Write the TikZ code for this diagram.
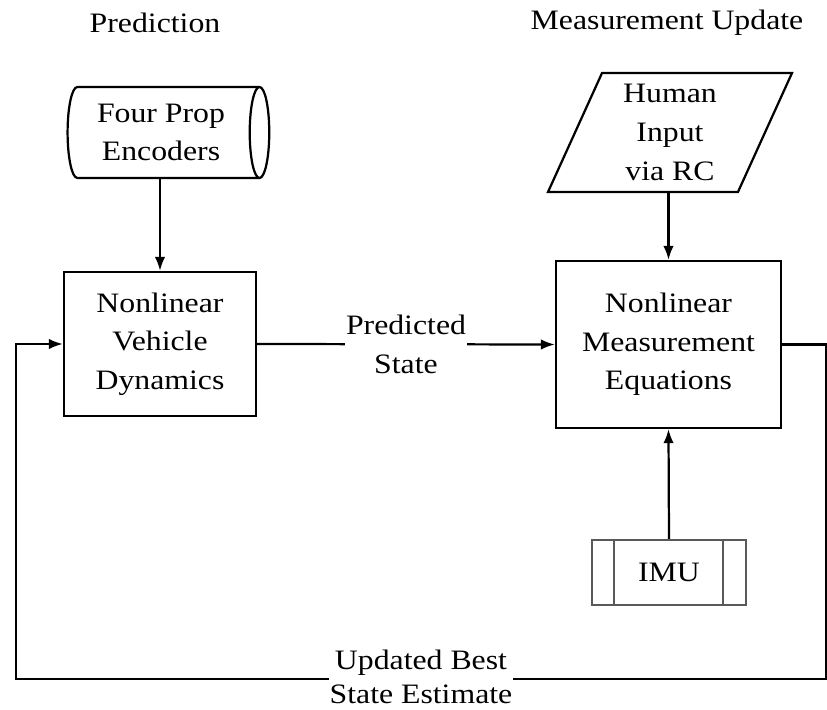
\documentclass[tikz,border=0pt]{standalone}
\usepackage{fontspec}
\setmainfont{Liberation Serif}[FakeStretch=1.13]
\usetikzlibrary{shapes.geometric,arrows.meta}

\begin{document}
\begin{tikzpicture}[x=0.03cm, y=-0.03cm, line width=1.9pt,
        font=\fontsize{24pt}{33pt}\selectfont,
        block/.style = {draw, rectangle, align=center},
        drum/.style = {draw, cylinder, aspect=0.3, align=center, minimum width=2.73cm, minimum height=6.05cm},
        slant/.style = {draw, trapezium, trapezium left angle=62.5, trapezium right angle=117.5,
            trapezium stretches body, align=center, minimum width=7.32cm, minimum height=3.57cm},
        lbl/.style = {fill=white, inner sep=1pt, align=center},
        arr/.style = {-{Latex[length=12pt,width=9pt]}}]
        \useasboundingbox (0,0) rectangle (827,710);
        % headings
        \node (pred) at (155,23) {Prediction};
        \node (upd)  at (667,23) {Measurement Update};
        % prediction side
        \node[drum] (enc) at (161,132.5) {Four Prop\\Encoders};
        \node[block, minimum width=5.76cm, minimum height=4.32cm] (veh) at (160,344) {Nonlinear\\Vehicle\\Dynamics};
        % measurement side
        \node[slant] (hum) at (670,132.5) {Human\\Input\\via RC};
        \node[block, minimum width=6.75cm, minimum height=5.01cm] (meas) at (668.5,344.5) {Nonlinear\\Measurement\\Equations};
        \node[block, draw=black!65, minimum width=4.62cm, minimum height=1.95cm] (imu) at (669,572.5) {IMU};
        \draw[black!65] ([xshift=0.69cm]imu.north west) -- ([xshift=0.69cm]imu.south west);
        \draw[black!65] ([xshift=-0.72cm]imu.north east) -- ([xshift=-0.72cm]imu.south east);
        % loop corners
        \coordinate (br) at (826,679);
        \coordinate (bl) at (16,679);
        \draw[arr] (enc.south -| veh.north) -- (veh.north);
        \draw[arr] (hum.south -| meas.north) -- (meas.north);
        \draw[arr] (imu.north) -- (meas.south);
        \draw[arr] (veh.east) -- node[lbl] {Predicted\\State} (meas.west);
        \draw[arr] (meas.east) -| (br) -- node[lbl, font=\fontsize{24pt}{29pt}\selectfont, yshift=2pt] {Updated Best\\State Estimate} (bl) |- (veh.west);
    \end{tikzpicture}
\end{document}
